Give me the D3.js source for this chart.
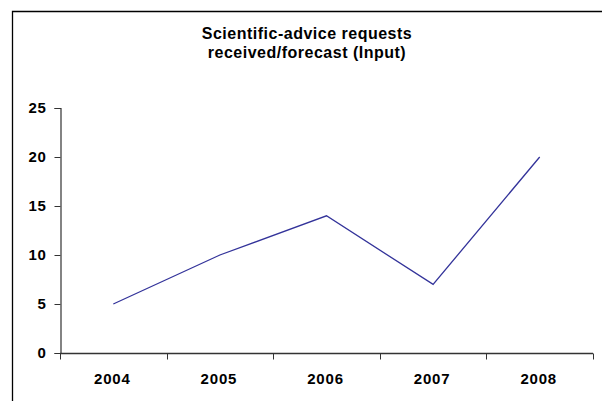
<!DOCTYPE html>
<html>
<head>
<meta charset="utf-8">
<script src="https://cdn.jsdelivr.net/npm/d3@7"></script>
<style>
  html, body { margin: 0; padding: 0; background: #fff; }
  svg { display: block; }
  text { font-family: "Liberation Sans", Arial, sans-serif; font-weight: bold; fill: #000; }
</style>
</head>
<body>
<div id="chart"></div>
<script>
// Requests per year
const years = ["2004", "2005", "2006", "2007", "2008"];
const requests = [5, 10, 14, 7, 20];
const yTicks = [0, 5, 10, 15, 20, 25];
const titleLines = ["Scientific-advice requests", "received/forecast (Input)"];

const W = 602, H = 401;
const margin = { left: 60, right: 9, top: 108, bottom: 48 };

const svg = d3.select("#chart").append("svg")
  .attr("width", W).attr("height", H);

// outer chart-area frame (left and top edges visible)
svg.append("path")
  .attr("d", `M12.5,${H} V11.5 H${W}`)
  .attr("fill", "none").attr("stroke", "#000").attr("stroke-width", 1.3);

const x = d3.scaleBand().domain(years)
  .range([margin.left, W - margin.right]);
const y = d3.scaleLinear().domain([0, 25])
  .range([H - margin.bottom, margin.top]);

// title
svg.append("text")
  .attr("text-anchor", "middle")
  .style("font-size", "16px")
  .style("letter-spacing", "0.5px")
  .selectAll("tspan").data(titleLines).join("tspan")
  .attr("x", 307).attr("y", (d, i) => 38.5 + i * 19.5)
  .text(d => d);

// y axis
const yAxis = svg.append("g")
  .attr("transform", `translate(${margin.left + 0.5},0)`)
  .call(d3.axisLeft(y).tickValues(yTicks).tickSize(6).tickPadding(9));
yAxis.select(".domain").attr("stroke", "#333").attr("stroke-width", 1.2);
yAxis.selectAll(".tick line").attr("stroke", "#333");
yAxis.selectAll(".tick text")
  .style("font-size", "15px")
  .style("letter-spacing", "0.6px")
  .style("font-family", "'Liberation Sans', Arial, sans-serif")
  .style("font-weight", "bold")
  .attr("x", -14);

// x axis: ticks sit on category boundaries
const xBounds = years.map(d => x(d)).concat([x.range()[1]]);
const xAxisG = svg.append("g")
  .attr("transform", `translate(0,${y(0) + 0.5})`);
xAxisG.append("line")
  .attr("x1", margin.left).attr("x2", W - margin.right)
  .attr("stroke", "#333").attr("stroke-width", 1.4);
xAxisG.selectAll(".xtick").data(xBounds).join("line")
  .attr("class", "xtick")
  .attr("x1", d => Math.round(d) + 0.5).attr("x2", d => Math.round(d) + 0.5)
  .attr("y1", 0).attr("y2", 6)
  .attr("stroke", "#333");
xAxisG.selectAll(".xlabel").data(years).join("text")
  .attr("class", "xlabel")
  .attr("x", d => x(d) + x.bandwidth() / 2 - 1)
  .attr("y", 30)
  .attr("text-anchor", "middle")
  .style("font-size", "15px")
  .style("letter-spacing", "0.8px")
  .text(d => d);

// data line
const line = d3.line()
  .x((d, i) => x(years[i]) + x.bandwidth() / 2)
  .y(d => y(d));
svg.append("path")
  .datum(requests)
  .attr("d", line)
  .attr("fill", "none")
  .attr("stroke", "#33339a")
  .attr("stroke-width", 1.3);
</script>
</body>
</html>
